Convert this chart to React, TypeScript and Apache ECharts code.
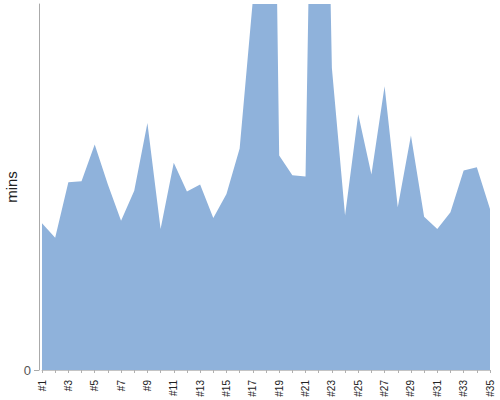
import React, { useEffect, useRef } from "react";
import * as echarts from "echarts";

const categories = Array.from({ length: 35 }, (_, i) => `#${i + 1}`);
const minsValues = [
  40.1, 36.1, 51.3, 51.6, 61.6, 50.7, 40.8, 49.0, 67.5, 38.5,
  56.6, 48.8, 50.7, 41.5, 48.1, 60.5, 101, 327, 58.6, 53.2,
  52.9, 270, 82.5, 42.2, 69.9, 53.4, 77.5, 44.5, 64.1, 41.9,
  38.5, 43.1, 54.5, 55.4, 44.0,
];
const yTicks = [0];

export default function App() {
  const ref = useRef<HTMLDivElement>(null);
  useEffect(() => {
    document.body.style.margin = "0";
    if (!ref.current) return;
    const chart = echarts.init(ref.current, undefined, { renderer: "svg" });
    chart.setOption({
      animation: false,
      grid: { left: 42, right: 10, top: 4, bottom: 30, outerBoundsMode: "none", containLabel: false },
      xAxis: {
        type: "category",
        data: categories,
        boundaryGap: false,
        offset: 4,
        axisLine: { show: true, lineStyle: { color: "#c4c4c4" } },
        axisTick: { show: true, interval: 0, length: 3, lineStyle: { color: "#b0b0b0" } },
        axisLabel: {
          interval: 1,
          rotate: 90,
          fontSize: 10,
          color: "#222",
          fontFamily: "Liberation Sans",
          margin: 6,
          hideOverlap: false,
        },
      },
      yAxis: {
        type: "value",
        min: yTicks[0],
        max: 100,
        interval: 1000,
        offset: 3,
        name: "mins",
        nameLocation: "middle",
        nameGap: 20,
        nameMoveOverlap: false,
        nameTextStyle: { fontSize: 15, color: "#222", fontFamily: "Liberation Sans" },
        axisLine: { show: true, lineStyle: { color: "#aaaaaa" } },
        axisTick: { show: true, length: 5, lineStyle: { color: "#aaaaaa" } },
        axisLabel: {
          fontSize: 13,
          color: "#555",
          fontFamily: "Liberation Sans",
          margin: 8,
          showMaxLabel: false,
          formatter: (v: number) => (yTicks.includes(v) ? String(v) : ""),
        },
        splitLine: { show: false },
      },
      series: [
        {
          type: "line",
          data: minsValues,
          symbol: "none",
          lineStyle: { width: 0 },
          areaStyle: { color: "#8fb2db", opacity: 1 },
          clip: true,
        },
      ],
    });
    return () => chart.dispose();
  }, []);
  return <div ref={ref} style={{ width: 500, height: 400 }} />;
}
